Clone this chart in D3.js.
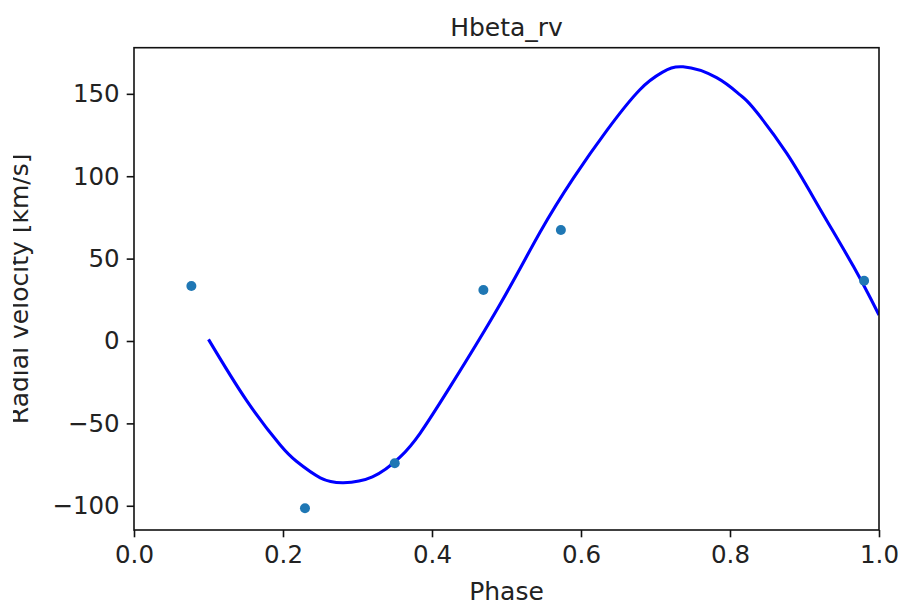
<!DOCTYPE html>
<html>
<head>
<meta charset="utf-8">
<script src="https://cdn.jsdelivr.net/npm/d3@7"></script>
<style>
  body { margin: 0; background: #fff; }
  svg { display: block; }
  text { font-family: "DejaVu Sans", sans-serif; fill: #222; }
</style>
</head>
<body>
<svg id="chart" width="898" height="605"></svg>
<script>
// observed points
const obsPhase = [0.077, 0.2295, 0.350, 0.469, 0.573, 0.980];
const obsRv = [33.4, -101.5, -74.2, 31, 67.4, 36.6];

// fitted curve
const fitPhase = [0.100, 0.151, 0.196, 0.218, 0.250, 0.281, 0.320, 0.357, 0.384, 0.424, 0.491, 0.545,
                  0.590, 0.635, 0.679, 0.709, 0.737, 0.782, 0.813, 0.831, 0.876, 0.921, 0.966, 1.000];
const fitRv = [1, -36, -63, -73, -83, -86, -82.5, -70.5, -56, -28, 22, 66,
               99, 128, 152.5, 163, 166.4, 159.8, 149.5, 141.5, 114, 80, 45, 15.8];

const xTicks = [0, 0.2, 0.4, 0.6, 0.8, 1.0];
const yTicks = [-100, -50, 0, 50, 100, 150];

const svg = d3.select('#chart');
const plot = {l: 134, r: 879, t: 47.7, b: 530};

let x = d3.scaleLinear().domain([0, 1]).range([plot.l, plot.r]);
let y = d3.scaleLinear().domain([-114.7, 178]).range([plot.b, plot.t]);

// clip for the plotting area
svg.append('clipPath').attr('id', 'plotClip')
    .append('rect')
    .attr('x', plot.l).attr('y', plot.t)
    .attr('width', plot.r - plot.l).attr('height', plot.b - plot.t);

// clip the y label like the original (left part cut)
svg.append('clipPath').attr('id', 'labelClip')
    .append('rect')
    .attr('x', 13).attr('y', 0).attr('width', 100).attr('height', 605);

let fitData = fitPhase.map((p, i) => [p, fitRv[i]]);
let line = d3.line()
    .x(d => x(d[0]))
    .y(d => y(d[1]))
    .curve(d3.curveNatural);

svg.append('path')
    .datum(fitData)
    .attr('clip-path', 'url(#plotClip)')
    .attr('d', line)
    .attr('fill', 'none')
    .attr('stroke', '#0000ff')
    .attr('stroke-width', 3.1);

svg.selectAll('.obs')
    .data(obsPhase.map((p, i) => [p, obsRv[i]]))
    .enter()
    .append('circle')
    .attr('class', 'obs')
    .attr('cx', d => x(d[0]))
    .attr('cy', d => y(d[1]))
    .attr('r', 5)
    .attr('fill', '#1f77b4');

// axes
let xAxis = d3.axisBottom(x).tickValues(xTicks).tickFormat(d3.format('.1f'))
    .tickSize(7.3).tickPadding(7);
let yAxis = d3.axisLeft(y).tickValues(yTicks).tickFormat(d3.format('d'))
    .tickSize(7.3).tickPadding(7);

let gx = svg.append('g').attr('transform', `translate(0, ${plot.b})`).call(xAxis);
let gy = svg.append('g').attr('transform', `translate(${plot.l}, 0)`).call(yAxis);

[gx, gy].forEach(g => {
    g.select('.domain').remove();
    g.selectAll('line').attr('stroke', '#111').attr('stroke-width', 1.6);
    g.selectAll('text')
        .style('font-family', '"DejaVu Sans", sans-serif')
        .style('font-size', '24.5px')
        .attr('fill', '#222');
});
gx.selectAll('text').attr('dy', '0.78em');

// spines
svg.append('rect')
    .attr('x', plot.l).attr('y', plot.t)
    .attr('width', plot.r - plot.l).attr('height', plot.b - plot.t)
    .attr('fill', 'none')
    .attr('stroke', '#111')
    .attr('stroke-width', 1.6);

// title and labels
svg.append('text')
    .attr('x', (plot.l + plot.r) / 2)
    .attr('y', 35.5)
    .attr('text-anchor', 'middle')
    .style('font-size', '25px')
    .text('Hbeta_rv');

svg.append('text')
    .attr('x', (plot.l + plot.r) / 2)
    .attr('y', 600)
    .attr('text-anchor', 'middle')
    .style('font-size', '25px')
    .text('Phase');

svg.append('g')
    .attr('clip-path', 'url(#labelClip)')
    .append('text')
    .attr('transform', `translate(28, ${(plot.t + plot.b) / 2}) rotate(-90)`)
    .attr('text-anchor', 'middle')
    .style('font-size', '25px')
    .text('Radial velocity [km/s]');
</script>
</body>
</html>
